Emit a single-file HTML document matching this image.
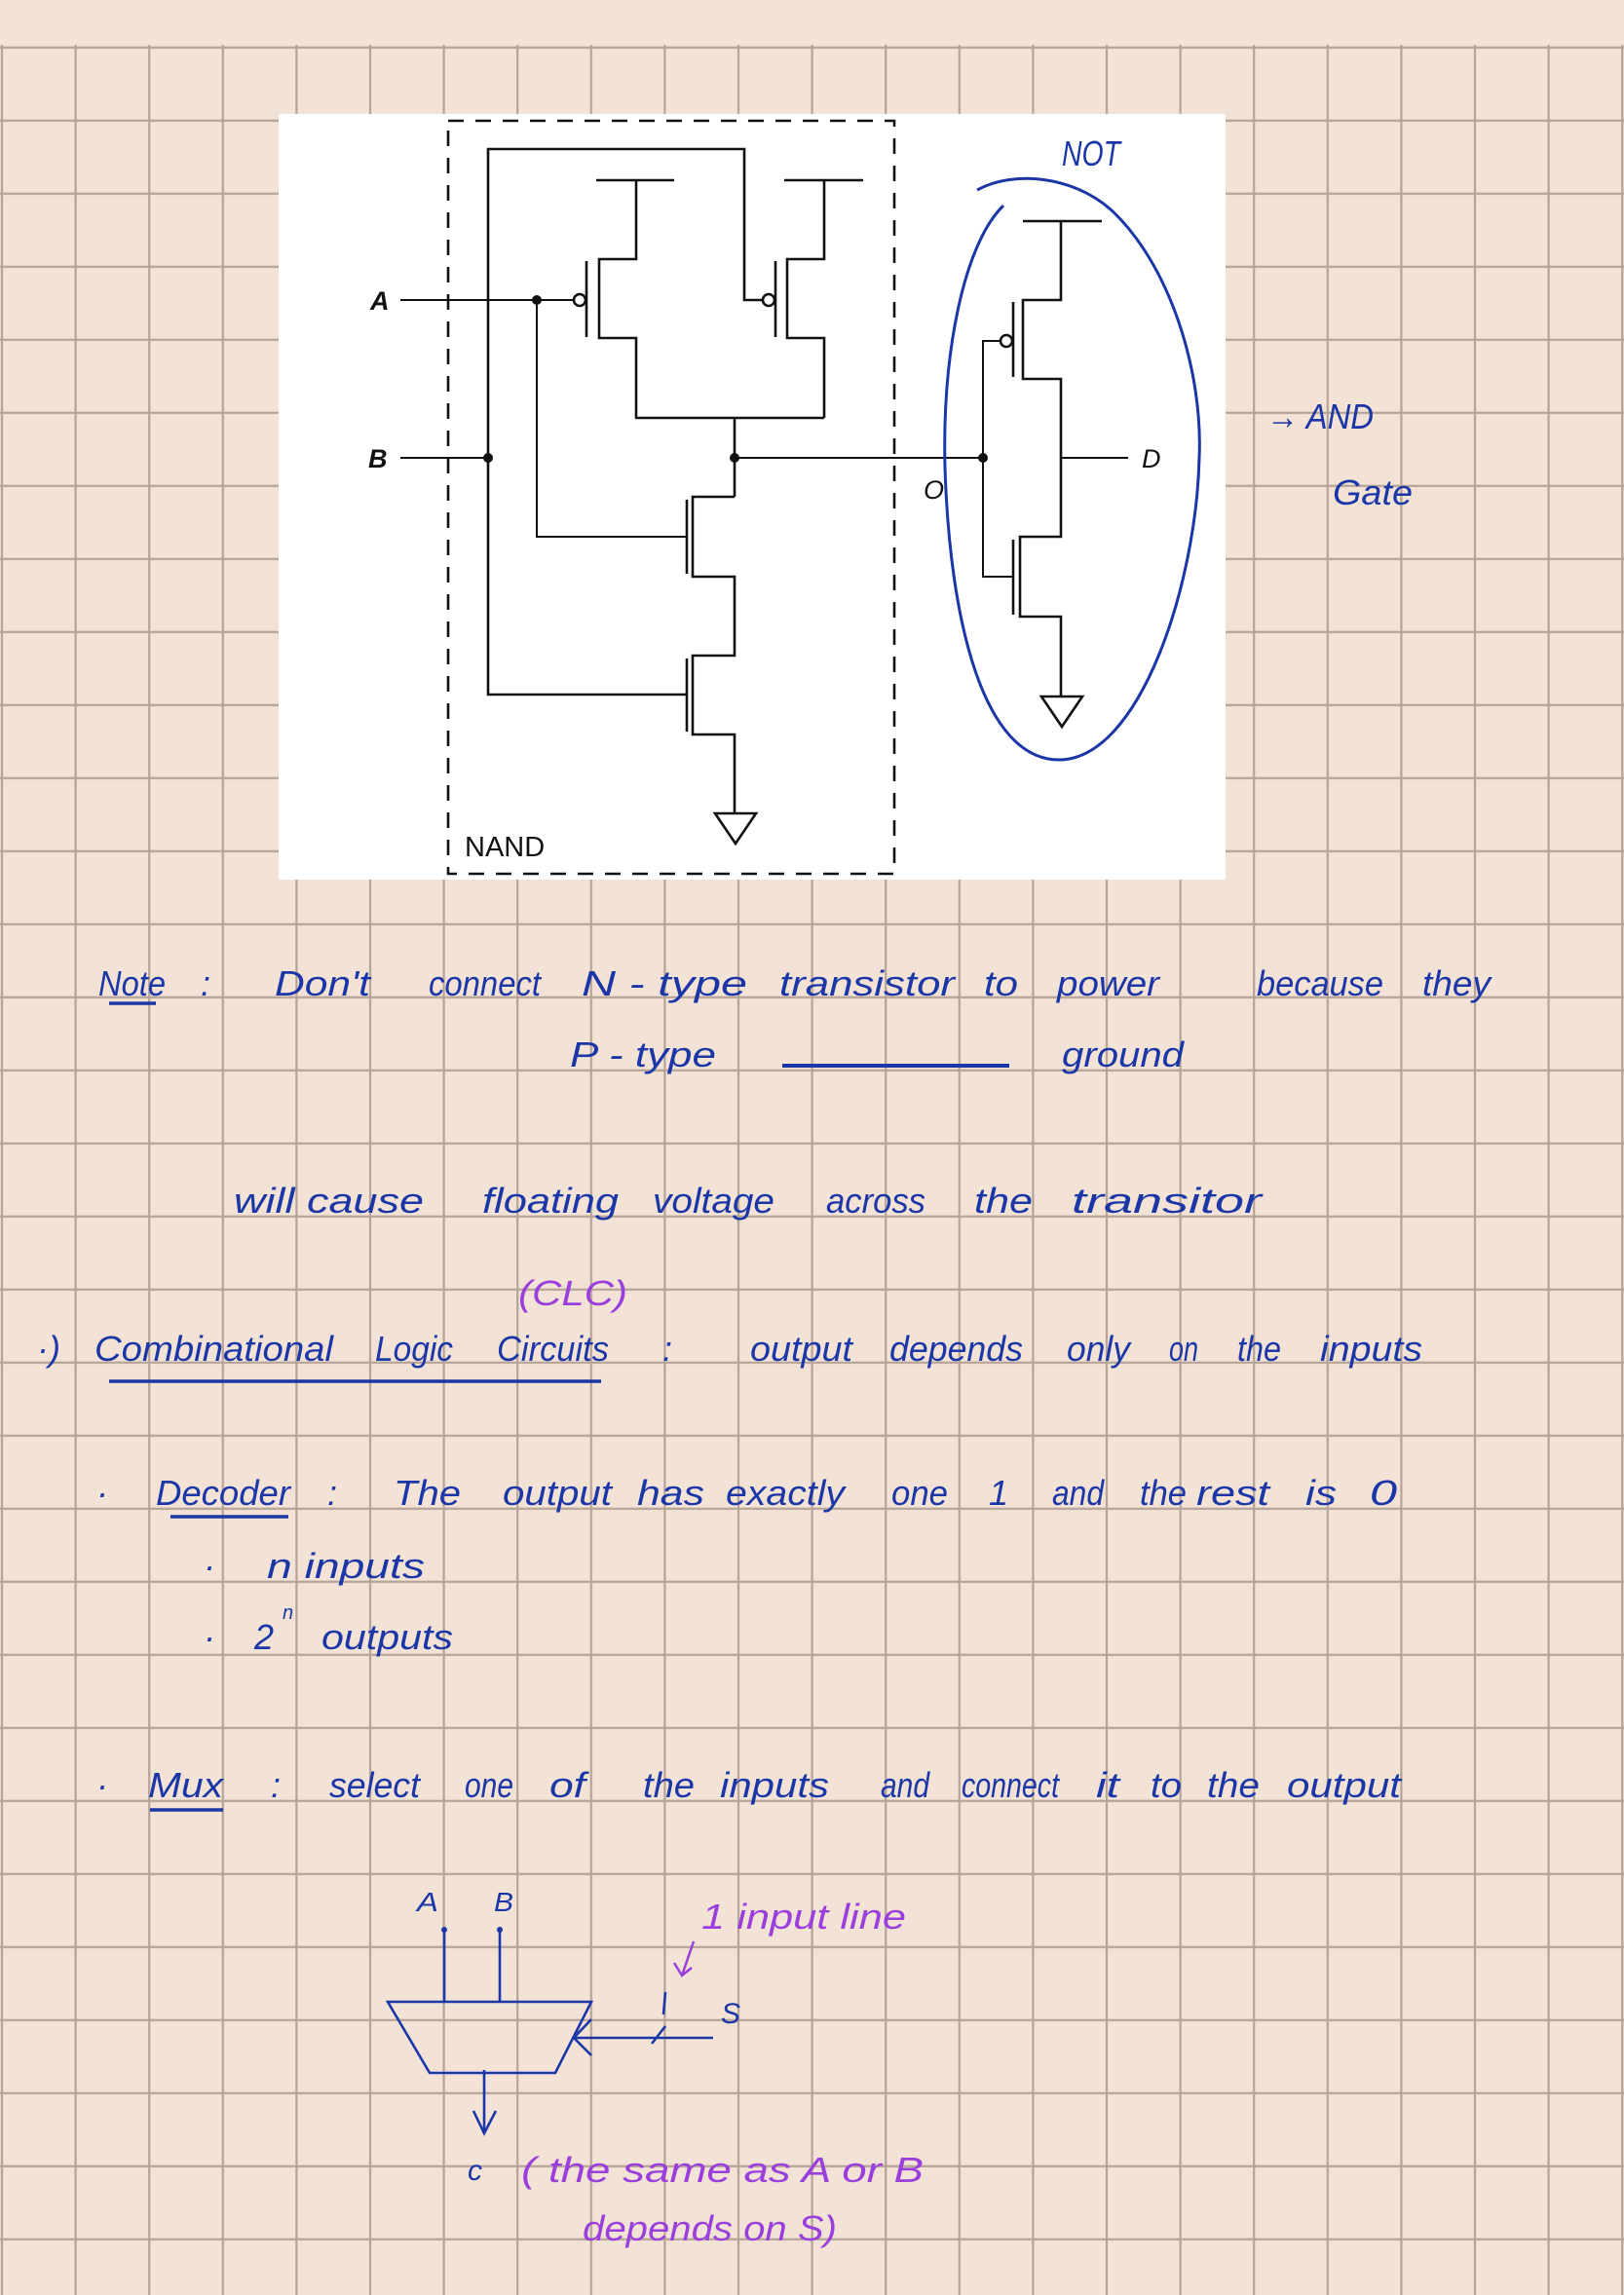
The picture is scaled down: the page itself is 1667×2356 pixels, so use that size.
<!DOCTYPE html>
<html><head><meta charset="utf-8"><style>
html,body{margin:0;padding:0;background:#f3e3d6;}
svg{display:block}
.h{font-family:"Liberation Sans Narrow","Liberation Sans",sans-serif;fill:#1b36a6;font-size:36px;font-style:italic}
.p{fill:#9a3fdc}
</style></head><body>
<svg width="1667" height="2356" viewBox="0 0 1667 2356" xmlns="http://www.w3.org/2000/svg">
<defs>
<pattern id="gp" x="0.9" y="47.7" width="75.6" height="75" patternUnits="userSpaceOnUse">
<line x1="0" y1="0" x2="0" y2="75" stroke="#b5a397" stroke-width="4.4"/>
<line x1="0" y1="0" x2="75.6" y2="0" stroke="#b5a397" stroke-width="4.4"/>
</pattern>
</defs>
<rect width="1667" height="2356" fill="#f3e3d6"/>
<rect x="0" y="46" width="1667" height="2310" fill="url(#gp)"/>
<rect x="286" y="117" width="972" height="786" fill="#fff"/>
<!-- NAND circuit -->
<g stroke="#111" stroke-width="2.6" fill="none">
<rect x="460" y="124" width="458" height="773" stroke-dasharray="16,12"/>
<polyline points="705,713 501,713 501,153 764,153 764,308 784,308"/>
<polyline points="612,185 692,185"/>
<polyline points="653,185 653,266 615,266 615,347 653,347 653,429 846,429"/>
<line x1="602" y1="268" x2="602" y2="346"/>
<circle cx="595" cy="308" r="6" fill="#fff"/>
<polyline points="805,185 886,185"/>
<polyline points="846,185 846,266 808,266 808,347 846,347 846,429"/>
<line x1="796" y1="268" x2="796" y2="346"/>
<circle cx="789" cy="308" r="6" fill="#fff"/>
<line x1="411" y1="308" x2="589" y2="308" stroke-width="2"/>
<polyline points="551,308 551,551 705,551" stroke-width="2"/>
<line x1="411" y1="470" x2="501" y2="470" stroke-width="2"/>
<line x1="754" y1="429" x2="754" y2="510"/>
<line x1="754" y1="470" x2="1009" y2="470" stroke-width="2"/>
<polyline points="754,510 711,510 711,592 754,592 754,673 711,673 711,754 754,754 754,835"/>
<line x1="705" y1="513" x2="705" y2="589"/>
<line x1="705" y1="676" x2="705" y2="751"/>
<polygon points="734,835 776,835 755,866"/>
<polyline points="1050,227 1131,227"/>
<polyline points="1089,227 1089,308 1050,308 1050,389 1089,389 1089,551 1047,551 1047,633 1089,633 1089,715"/>
<line x1="1040" y1="310" x2="1040" y2="387"/>
<line x1="1040" y1="554" x2="1040" y2="631"/>
<circle cx="1033" cy="350" r="6" fill="#fff"/>
<polyline points="1027,350 1009,350 1009,592 1040,592" stroke-width="2"/>
<line x1="1089" y1="470" x2="1158" y2="470" stroke-width="2"/>
<polygon points="1069,715 1111,715 1090,746"/>
</g>
<g fill="#111">
<circle cx="551" cy="308" r="5"/><circle cx="501" cy="470" r="5"/><circle cx="754" cy="470" r="5"/><circle cx="1009" cy="470" r="5"/>
</g>
<g font-family="Liberation Sans,sans-serif" fill="#111">
<text x="380" y="318" font-size="27" font-style="italic" font-weight="bold">A</text>
<text x="378" y="480" font-size="27" font-style="italic" font-weight="bold">B</text>
<text x="1172" y="480" font-size="27" font-style="italic">D</text>
<text x="948" y="512" font-size="27" font-style="italic">O</text>
<text x="477" y="879" font-size="29">NAND</text>
</g>
<path d="M1003,195 C1040,175 1100,180 1140,215 C1200,270 1235,380 1231,470 C1228,600 1170,780 1087,780 C1010,780 975,640 970,480 C967,360 990,250 1030,211" fill="none" stroke="#1b36a6" stroke-width="3"/>
<text class="h" x="1090" y="170" textLength="60" lengthAdjust="spacingAndGlyphs" font-size="28" font-style="normal">NOT</text>
<text class="h" x="1300" y="440" textLength="110" lengthAdjust="spacingAndGlyphs">→ AND</text>
<text class="h" x="1368" y="518" textLength="82" lengthAdjust="spacingAndGlyphs">Gate</text>

<g class="h">
<text x="101" y="1022" textLength="69" lengthAdjust="spacingAndGlyphs">Note</text>
<text x="206" y="1022">:</text>
<text x="282" y="1022" textLength="98" lengthAdjust="spacingAndGlyphs">Don't</text>
<text x="440" y="1022" textLength="115" lengthAdjust="spacingAndGlyphs">connect</text>
<text x="597" y="1022" textLength="170" lengthAdjust="spacingAndGlyphs">N - type</text>
<text x="800" y="1022" textLength="180" lengthAdjust="spacingAndGlyphs">transistor</text>
<text x="1010" y="1022" textLength="35" lengthAdjust="spacingAndGlyphs">to</text>
<text x="1085" y="1022" textLength="105" lengthAdjust="spacingAndGlyphs">power</text>
<text x="1290" y="1022" textLength="130" lengthAdjust="spacingAndGlyphs">because</text>
<text x="1460" y="1022" textLength="70" lengthAdjust="spacingAndGlyphs">they</text>
<text x="585" y="1095" textLength="150" lengthAdjust="spacingAndGlyphs">P - type</text>
<text x="1090" y="1095" textLength="125" lengthAdjust="spacingAndGlyphs">ground</text>
<text x="240" y="1245" textLength="195" lengthAdjust="spacingAndGlyphs">will cause</text>
<text x="495" y="1245" textLength="140" lengthAdjust="spacingAndGlyphs">floating</text>
<text x="670" y="1245" textLength="125" lengthAdjust="spacingAndGlyphs">voltage</text>
<text x="848" y="1245" textLength="102" lengthAdjust="spacingAndGlyphs">across</text>
<text x="1000" y="1245" textLength="60" lengthAdjust="spacingAndGlyphs">the</text>
<text x="1100" y="1245" textLength="195" lengthAdjust="spacingAndGlyphs">transitor</text>
<text class="h p" x="532" y="1340" textLength="112" lengthAdjust="spacingAndGlyphs" font-size="30">(CLC)</text>
<text x="38" y="1397">·)</text>
<text x="97" y="1397" textLength="245" lengthAdjust="spacingAndGlyphs">Combinational</text>
<text x="385" y="1397" textLength="80" lengthAdjust="spacingAndGlyphs">Logic</text>
<text x="510" y="1397" textLength="115" lengthAdjust="spacingAndGlyphs">Circuits</text>
<text x="680" y="1397">:</text>
<text x="770" y="1397" textLength="105" lengthAdjust="spacingAndGlyphs">output</text>
<text x="913" y="1397" textLength="137" lengthAdjust="spacingAndGlyphs">depends</text>
<text x="1095" y="1397" textLength="65" lengthAdjust="spacingAndGlyphs">only</text>
<text x="1200" y="1397" textLength="30" lengthAdjust="spacingAndGlyphs">on</text>
<text x="1270" y="1397" textLength="45" lengthAdjust="spacingAndGlyphs">the</text>
<text x="1355" y="1397" textLength="105" lengthAdjust="spacingAndGlyphs">inputs</text>

<text x="99" y="1545">·</text>
<text x="160" y="1545" textLength="138" lengthAdjust="spacingAndGlyphs">Decoder</text>
<text x="336" y="1545">:</text>
<text x="404" y="1545" textLength="69" lengthAdjust="spacingAndGlyphs">The</text>
<text x="516" y="1545" textLength="112" lengthAdjust="spacingAndGlyphs">output</text>
<text x="654" y="1545" textLength="69" lengthAdjust="spacingAndGlyphs">has</text>
<text x="745" y="1545" textLength="122" lengthAdjust="spacingAndGlyphs">exactly</text>
<text x="915" y="1545" textLength="58" lengthAdjust="spacingAndGlyphs">one</text>
<text x="1015" y="1545">1</text>
<text x="1080" y="1545" textLength="53" lengthAdjust="spacingAndGlyphs">and</text>
<text x="1170" y="1545" textLength="48" lengthAdjust="spacingAndGlyphs">the</text>
<text x="1228" y="1545" textLength="75" lengthAdjust="spacingAndGlyphs">rest</text>
<text x="1340" y="1545" textLength="32" lengthAdjust="spacingAndGlyphs">is</text>
<text x="1406" y="1545" textLength="28" lengthAdjust="spacingAndGlyphs">0</text>
<text x="209" y="1620">·</text>
<text x="274" y="1620" textLength="162" lengthAdjust="spacingAndGlyphs">n inputs</text>
<text x="209" y="1693">·</text>
<text x="261" y="1693">2</text>
<text x="290" y="1662" font-size="20">n</text>
<text x="330" y="1693" textLength="135" lengthAdjust="spacingAndGlyphs">outputs</text>

<text x="99" y="1845">·</text>
<text x="152" y="1845" textLength="77" lengthAdjust="spacingAndGlyphs">Mux</text>
<text x="278" y="1845">:</text>
<text x="338" y="1845" textLength="93" lengthAdjust="spacingAndGlyphs">select</text>
<text x="477" y="1845" textLength="50" lengthAdjust="spacingAndGlyphs">one</text>
<text x="564" y="1845" textLength="37" lengthAdjust="spacingAndGlyphs">of</text>
<text x="660" y="1845" textLength="53" lengthAdjust="spacingAndGlyphs">the</text>
<text x="739" y="1845" textLength="112" lengthAdjust="spacingAndGlyphs">inputs</text>
<text x="904" y="1845" textLength="50" lengthAdjust="spacingAndGlyphs">and</text>
<text x="987" y="1845" textLength="100" lengthAdjust="spacingAndGlyphs">connect</text>
<text x="1125" y="1845" textLength="24" lengthAdjust="spacingAndGlyphs">it</text>
<text x="1181" y="1845" textLength="32" lengthAdjust="spacingAndGlyphs">to</text>
<text x="1239" y="1845" textLength="54" lengthAdjust="spacingAndGlyphs">the</text>
<text x="1321" y="1845" textLength="117" lengthAdjust="spacingAndGlyphs">output</text>
</g>
<g stroke="#1b36a6" stroke-width="3.5" fill="none">
<line x1="112" y1="1030" x2="160" y2="1030"/>
<line x1="803" y1="1094" x2="1036" y2="1094" stroke-width="4"/>
<line x1="112" y1="1418" x2="617" y2="1418"/>
<line x1="175" y1="1557" x2="296" y2="1557"/>
<line x1="154" y1="1858" x2="229" y2="1858"/>
</g>
<g stroke="#1b36a6" stroke-width="2.6" fill="none">
<line x1="456" y1="1981" x2="456" y2="2055"/>
<line x1="513" y1="1981" x2="513" y2="2055"/>
<polygon points="398,2055 607,2055 570,2128 441,2128"/>
<line x1="589" y1="2092" x2="732" y2="2092"/>
<polyline points="607,2073 589,2092 607,2110"/>
<line x1="669" y1="2098" x2="683" y2="2080"/>
<line x1="683" y1="2045" x2="681" y2="2068"/>
<line x1="497" y1="2125" x2="497" y2="2190"/>
<polyline points="486,2167 497,2190 509,2167"/>
</g>
<g fill="#1b36a6"><circle cx="456" cy="1981" r="3"/><circle cx="513" cy="1981" r="3"/></g>
<g stroke="#9a3fdc" stroke-width="2.5" fill="none">
<polyline points="712,1993 700,2028"/>
<polyline points="692,2015 700,2028 710,2020"/>
</g>
<g class="h" font-style="normal">
<text x="428" y="1962" font-size="28" textLength="22" lengthAdjust="spacingAndGlyphs">A</text>
<text x="507" y="1962" font-size="28" textLength="20" lengthAdjust="spacingAndGlyphs">B</text>
<text x="740" y="2077" font-size="30">S</text>
<text x="480" y="2238" font-size="30">c</text>
</g>
<g class="h p">
<text x="720" y="1980" textLength="210" lengthAdjust="spacingAndGlyphs">1 input line</text>
<text x="535" y="2240" textLength="413" lengthAdjust="spacingAndGlyphs">( the same as A or B</text>
<text x="598" y="2300" textLength="261" lengthAdjust="spacingAndGlyphs">depends on S)</text>
</g>
</svg>
</body></html>
